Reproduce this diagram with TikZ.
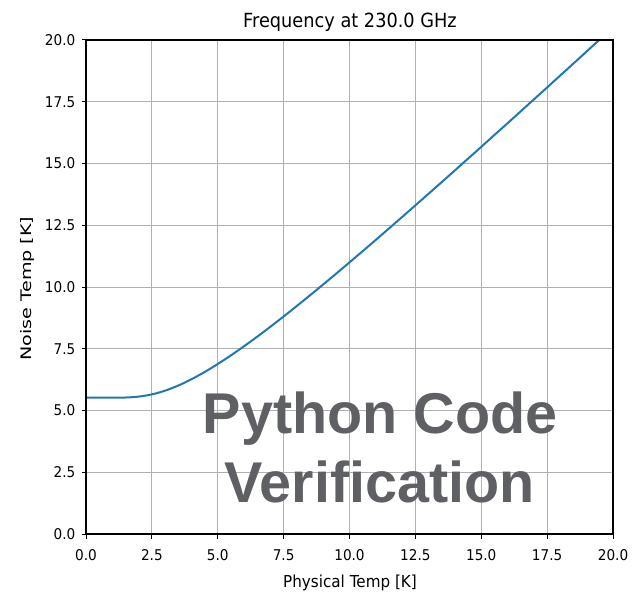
\documentclass[tikz,border=0pt]{standalone}
\usepackage{fontspec}
\setmainfont{DejaVu Sans}
\newfontfamily\markfont{Liberation Sans}
\definecolor{curveblue}{HTML}{1F77B4}
\definecolor{gridgray}{HTML}{B0B0B0}
\definecolor{markgray}{HTML}{5F6064}
\newcommand{\narrow}[1]{\scalebox{0.92}[1]{#1}}
\begin{document}
\begin{tikzpicture}[x=1pt,y=-1pt,
  gridline/.style={draw=gridgray,line width=0.9pt},
  spine/.style={draw=black,line width=1.1pt},
  tickmark/.style={draw=black,line width=1pt},
  ticklabel/.style={inner sep=0pt,font=\fontsize{14.8}{16}\selectfont},
  axislabel/.style={inner sep=0pt,font=\fontsize{16.5}{18}\selectfont},
  titlelabel/.style={inner sep=0pt,font=\fontsize{19.5}{22}\selectfont},
  watermark/.style={inner sep=0pt,text=markgray,font=\markfont\bfseries\fontsize{57.5}{60}\selectfont},
  declare function={
    px(\t)=86+26.35*\t;
    py(\v)=534-24.7*\v;
    tn(\t)=5.5191*(1+exp(-2*5.5191/\t))/(1-exp(-2*5.5191/\t));
  }]
\useasboundingbox (0,0) rectangle (634,596);
\fill[white] (0,0) rectangle (634,596);

% grid
\foreach \k in {1,...,7}{
  \draw[gridline] ({px(2.5*\k)},{py(0)}) -- ({px(2.5*\k)},{py(20)});
  \draw[gridline] ({px(0)},{py(2.5*\k)}) -- ({px(20)},{py(2.5*\k)});
}

% noise temperature curve
\begin{scope}
  \clip ({px(0)},{py(0)}) rectangle ({px(20)},{py(20)});
  \draw[curveblue,line width=2pt,line join=round]
    ({px(0)},{py(5.5191)}) --
    plot[domain=0.25:20,samples=120,smooth] ({px(\x)},{py(tn(\x))});
\end{scope}

% axes box
\draw[spine] ({px(0)},{py(0)}) rectangle ({px(20)},{py(20)});

% ticks and tick labels
\foreach \v/\s in {0/0.0,2.5/2.5,5/5.0,7.5/7.5,10/10.0,12.5/12.5,15/15.0,17.5/17.5,20/20.0}{
  \draw[tickmark] ({px(\v)},{py(0)}) -- ({px(\v)},{py(0)+4.5});
  \draw[tickmark] ({px(0)},{py(\v)}) -- ({px(0)-4.5},{py(\v)});
  \node[ticklabel,anchor=center] (xt\s) at ({px(\v)},555) {\narrow{\s}};
  \node[ticklabel,anchor=east] (yt\s) at (75.5,{py(\v)}) {\narrow{\s}};
}

% labels
\node[titlelabel,anchor=base] (title) at (350,28) {\scalebox{0.91}[1]{Frequency at 230.0 GHz}};
\node[axislabel,anchor=base] (xlab) at (350,587.5) {\narrow{Physical Temp [K]}};
\node[axislabel,anchor=center,rotate=90] (ylab) at (27.5,288.5) {\scalebox{1.16}[0.88]{Noise Temp [K]}};

% overlay caption
\node[watermark,anchor=base] (mark1) at (380,433) {Python Code};
\node[watermark,anchor=base] (mark2) at (379.5,502) {Verification};
\end{tikzpicture}
\end{document}
